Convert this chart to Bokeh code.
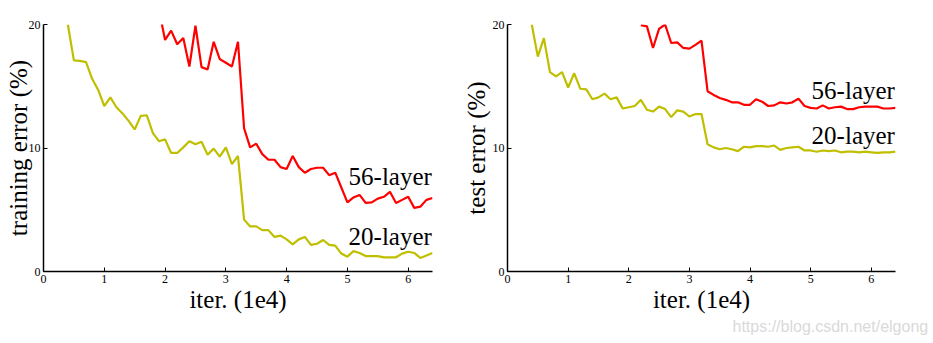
from bokeh.plotting import figure
from bokeh.layouts import row
from bokeh.models import Range1d, FixedTicker, Label, Title
from bokeh.embed import file_html
from bokeh.resources import INLINE

# ---- data (x in units of 1e4 iterations, y in %) ----
train20_x = [0.4, 0.5, 0.6, 0.7, 0.8, 0.9, 1.0, 1.1, 1.2, 1.3, 1.4, 1.5, 1.6, 1.7, 1.8, 1.9,
             2.0, 2.1, 2.2, 2.3, 2.4, 2.5, 2.6, 2.7, 2.8, 2.9, 3.0, 3.1, 3.2, 3.3, 3.4, 3.5,
             3.6, 3.7, 3.8, 3.9, 4.0, 4.1, 4.2, 4.3, 4.4, 4.5, 4.6, 4.7, 4.8, 4.9, 5.0, 5.1,
             5.2, 5.3, 5.4, 5.5, 5.6, 5.7, 5.8, 5.9, 6.0, 6.1, 6.2, 6.3, 6.4]
train20_y = [20.0, 17.1, 17.05, 16.95, 15.6, 14.7, 13.4, 14.1, 13.3, 12.8, 12.2, 11.5, 12.6, 12.65, 11.2, 10.55,
             10.7, 9.6, 9.6, 10.05, 10.55, 10.3, 10.5, 9.45, 9.95, 9.3, 10.05, 8.7, 9.35, 4.2, 3.65, 3.65,
             3.35, 3.35, 2.8, 2.9, 2.6, 2.2, 2.6, 2.8, 2.15, 2.25, 2.55, 2.15, 2.1, 1.45, 1.2, 1.65,
             1.5, 1.25, 1.25, 1.25, 1.15, 1.15, 1.15, 1.45, 1.6, 1.5, 1.1, 1.3, 1.5]

train56_x = [1.9, 2.0, 2.1, 2.2, 2.3, 2.4, 2.5, 2.6, 2.7, 2.8, 2.9, 3.0, 3.1, 3.2, 3.3, 3.4, 3.5,
             3.6, 3.7, 3.8, 3.9, 4.0, 4.1, 4.2, 4.3, 4.4, 4.5, 4.6, 4.7, 4.8, 4.9, 5.0, 5.1,
             5.2, 5.3, 5.4, 5.5, 5.6, 5.7, 5.8, 5.9, 6.0, 6.1, 6.2, 6.3, 6.4]
train56_y = [21.2, 18.75, 19.5, 18.4, 18.9, 16.6, 19.9, 16.55, 16.35, 18.6, 17.2, 16.9, 16.6, 18.6, 11.6, 10.05, 10.35,
             9.5, 9.05, 9.05, 8.45, 8.3, 9.35, 8.45, 8.0, 8.3, 8.4, 8.4, 7.8, 8.0, 6.8, 5.6, 6.0,
             6.2, 5.55, 5.6, 5.9, 6.05, 6.45, 5.55, 5.8, 6.05, 5.15, 5.25, 5.8, 5.95]

test20_x = train20_x
test20_y = [20.0, 17.4, 18.9, 16.15, 15.8, 16.15, 14.9, 16.05, 14.8, 14.75, 13.95, 14.1, 14.4, 13.95, 14.1, 13.2,
            13.3, 13.4, 13.9, 13.1, 12.95, 13.35, 13.15, 12.5, 13.05, 12.95, 12.55, 12.75, 12.75, 10.3, 10.05, 9.9,
            10.0, 9.9, 9.75, 10.1, 10.05, 10.15, 10.15, 10.1, 10.2, 9.85, 10.0, 10.05, 10.1, 9.8, 9.8, 9.7,
            9.8, 9.75, 9.8, 9.65, 9.7, 9.7, 9.65, 9.7, 9.65, 9.6, 9.65, 9.65, 9.7]

test56_x = [2.2, 2.3, 2.4, 2.5, 2.6, 2.7, 2.8, 2.9, 3.0, 3.1, 3.2, 3.3, 3.4, 3.5,
            3.6, 3.7, 3.8, 3.9, 4.0, 4.1, 4.2, 4.3, 4.4, 4.5, 4.6, 4.7, 4.8, 4.9, 5.0, 5.1,
            5.2, 5.3, 5.4, 5.5, 5.6, 5.7, 5.8, 5.9, 6.0, 6.1, 6.2, 6.3, 6.4]
test56_y = [19.95, 19.85, 18.1, 19.65, 20.0, 18.5, 18.55, 18.1, 18.05, 18.35, 18.7, 14.6, 14.3, 14.05,
            13.9, 13.7, 13.7, 13.5, 13.5, 13.95, 13.75, 13.4, 13.45, 13.7, 13.6, 13.7, 14.0, 13.4, 13.25, 13.2,
            13.45, 13.2, 13.3, 13.35, 13.15, 13.15, 13.3, 13.35, 13.35, 13.35, 13.2, 13.2, 13.25]

x_ticks = [0, 1, 2, 3, 4, 5, 6]
y_ticks = [0, 10, 20]
x_label = "iter. (1e4)"
y_labels = ["training error (%)", "test error (%)"]
series_names = ["56-layer", "20-layer"]
watermark = "https://blog.csdn.net/elgong"

RED = "#ff0000"
OLIVE = "#bfbf00"
SERIF = "Liberation Serif"


def make_panel(width, left, right, ylab, ylab_standoff, x56, y56, x20, y20, lab56_y, lab20_y):
    p = figure(width=width, height=343, output_backend="svg", toolbar_location=None,
               x_range=Range1d(0, 6.4), y_range=Range1d(0, 20),
               min_border_left=left, min_border_right=right,
               min_border_top=24, min_border_bottom=72)
    p.outline_line_color = None
    p.xgrid.visible = False
    p.ygrid.visible = False
    for ax, ticks in ((p.xaxis[0], x_ticks), (p.yaxis[0], y_ticks)):
        ax.ticker = FixedTicker(ticks=ticks)
        ax.major_tick_in = 4
        ax.major_tick_out = 0
        ax.minor_tick_line_color = None
        ax.axis_line_color = "black"
        ax.axis_line_width = 1.5
        ax.major_tick_line_color = "black"
        ax.major_label_text_font = SERIF
        ax.major_label_text_font_size = "12px"
        ax.major_label_text_color = "black"
        ax.axis_label_text_font = SERIF
        ax.axis_label_text_font_size = "25px"
        ax.axis_label_text_font_style = "normal"
        ax.axis_label_text_color = "black"
        ax.axis_label_standoff = 0
        ax.major_label_standoff = 3
    p.xaxis.axis_label = x_label
    p.yaxis.axis_label = ylab
    p.yaxis.axis_label_standoff = ylab_standoff

    p.line(x20, y20, line_color=OLIVE, line_width=2.2)
    p.line(x56, y56, line_color=RED, line_width=2.2)

    p.add_layout(Label(x=6.39, y=lab56_y, text=series_names[0], text_align="right",
                       text_baseline="bottom",
                       text_font=SERIF, text_font_size="25px", text_color="black"))
    p.add_layout(Label(x=6.39, y=lab20_y, text=series_names[1], text_align="right",
                       text_baseline="bottom",
                       text_font=SERIF, text_font_size="25px", text_color="black"))
    return p


p1 = make_panel(442, 43, 10, y_labels[0], -6, train56_x, train56_y, train20_x, train20_y, 6.6, 1.75)
p2 = make_panel(491, 65, 38, y_labels[1], 0, test56_x, test56_y, test20_x, test20_y, 13.6, 9.95)
wm = Title(text=watermark, align="left", offset=225, standoff=0, text_font="Liberation Sans",
           text_font_size="16px", text_font_style="normal", text_color="#d9d9d9")
p2.add_layout(wm, "below")

layout = row(p1, p2)
open("out.html", "w").write(file_html(layout, INLINE))
